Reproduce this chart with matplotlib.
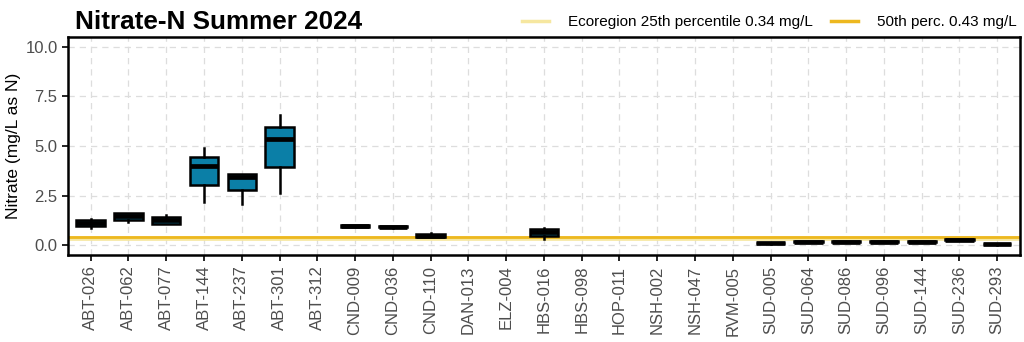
import matplotlib
matplotlib.use("Agg")
import matplotlib.pyplot as plt
from matplotlib.lines import Line2D
import numpy as np

plt.rcParams['font.family'] = ['Liberation Sans', 'DejaVu Sans']

sites = ["ABT-026", "ABT-062", "ABT-077", "ABT-144", "ABT-237", "ABT-301", "ABT-312",
         "CND-009", "CND-036", "CND-110", "DAN-013", "ELZ-004", "HBS-016", "HBS-098",
         "HOP-011", "NSH-002", "NSH-047", "RVM-005", "SUD-005", "SUD-064", "SUD-086",
         "SUD-096", "SUD-144", "SUD-236", "SUD-293"]
nan = np.nan
whisker_low = [0.88, 1.17, 1.05, 2.20, 2.08, 2.63, nan, 0.93, 0.89, 0.40, nan, nan, 0.30, nan,
               nan, nan, nan, nan, 0.08, 0.15, 0.15, 0.15, 0.15, 0.26, 0.03]
q1 = [0.95, 1.28, 1.08, 3.05, 2.78, 3.93, nan, 0.94, 0.90, 0.40, nan, nan, 0.45, nan,
      nan, nan, nan, nan, 0.09, 0.16, 0.16, 0.16, 0.16, 0.27, 0.04]
median = [1.10, 1.45, 1.25, 3.98, 3.45, 5.33, nan, 0.97, 0.92, 0.48, nan, nan, 0.65, nan,
          nan, nan, nan, nan, 0.10, 0.17, 0.17, 0.17, 0.17, 0.28, 0.05]
q3 = [1.25, 1.60, 1.42, 4.47, 3.58, 5.97, nan, 1.00, 0.95, 0.55, nan, nan, 0.80, nan,
      nan, nan, nan, nan, 0.12, 0.19, 0.19, 0.19, 0.19, 0.30, 0.07]
whisker_high = [1.33, 1.62, 1.53, 4.92, 3.58, 6.55, nan, 1.00, 0.95, 0.63, nan, nan, 0.88, nan,
                nan, nan, nan, nan, 0.12, 0.19, 0.19, 0.19, 0.19, 0.30, 0.07]

ecoregion_p25 = 0.34
ecoregion_p50 = 0.43

fig = plt.figure(figsize=(10.24, 3.42), dpi=100)
ax = fig.add_axes([0.0664, 0.254, 0.9296, 0.638])

stats = []
positions = []
for i, s in enumerate(sites):
    if np.isnan(median[i]):
        continue
    stats.append(dict(med=median[i], q1=q1[i], q3=q3[i],
                      whislo=whisker_low[i], whishi=whisker_high[i], fliers=[]))
    positions.append(i + 1)

ax.axhline(ecoregion_p25, color="#F6E7A0", lw=3.4, zorder=2)
ax.axhline(ecoregion_p50, color="#EDB81F", lw=2.0, zorder=2)

ax.bxp(stats, positions=positions, widths=0.75, patch_artist=True, showcaps=False,
       boxprops=dict(facecolor="#0B7FA7", edgecolor="black", linewidth=1.8),
       medianprops=dict(color="black", linewidth=3.4, solid_capstyle="butt"),
       whiskerprops=dict(color="black", linewidth=1.8), zorder=3)

ax.set_xlim(0.4, len(sites) + 0.6)
ax.set_ylim(-0.5, 10.5)
ax.set_yticks([0, 2.5, 5, 7.5, 10])
ax.set_yticklabels(["0.0", "2.5", "5.0", "7.5", "10.0"])
ax.set_xticks(range(1, len(sites) + 1))
ax.set_xticklabels(sites, rotation=90)
ax.tick_params(axis="both", colors="black", labelcolor="#4D4D4D", labelsize=12,
               length=4, width=1.2)

ax.grid(True, color="#DDDDDD", linestyle=(0, (5, 4)), linewidth=0.9, zorder=0)
ax.set_axisbelow(True)
for sp in ax.spines.values():
    sp.set_linewidth(1.8)
    sp.set_color("black")

ax.set_ylabel("Nitrate (mg/L as N)", fontsize=12.5, color="black", labelpad=3)

fig.text(0.073, 0.935, "Nitrate-N Summer 2024", fontsize=18.8, fontweight="bold",
         ha="left", va="center")

handles = [Line2D([], [], color="#F6E7A0", lw=2.5),
           Line2D([], [], color="#EDB81F", lw=2.5)]
labels = [f"Ecoregion 25th percentile {ecoregion_p25} mg/L",
          f"50th perc. {ecoregion_p50} mg/L"]
fig.legend(handles, labels, loc="center right", bbox_to_anchor=(0.9985, 0.935), ncol=2,
           frameon=False, fontsize=11, handlelength=1.8, columnspacing=1.2,
           handletextpad=1.2, borderaxespad=0)

fig.savefig("out.png", dpi=100)
